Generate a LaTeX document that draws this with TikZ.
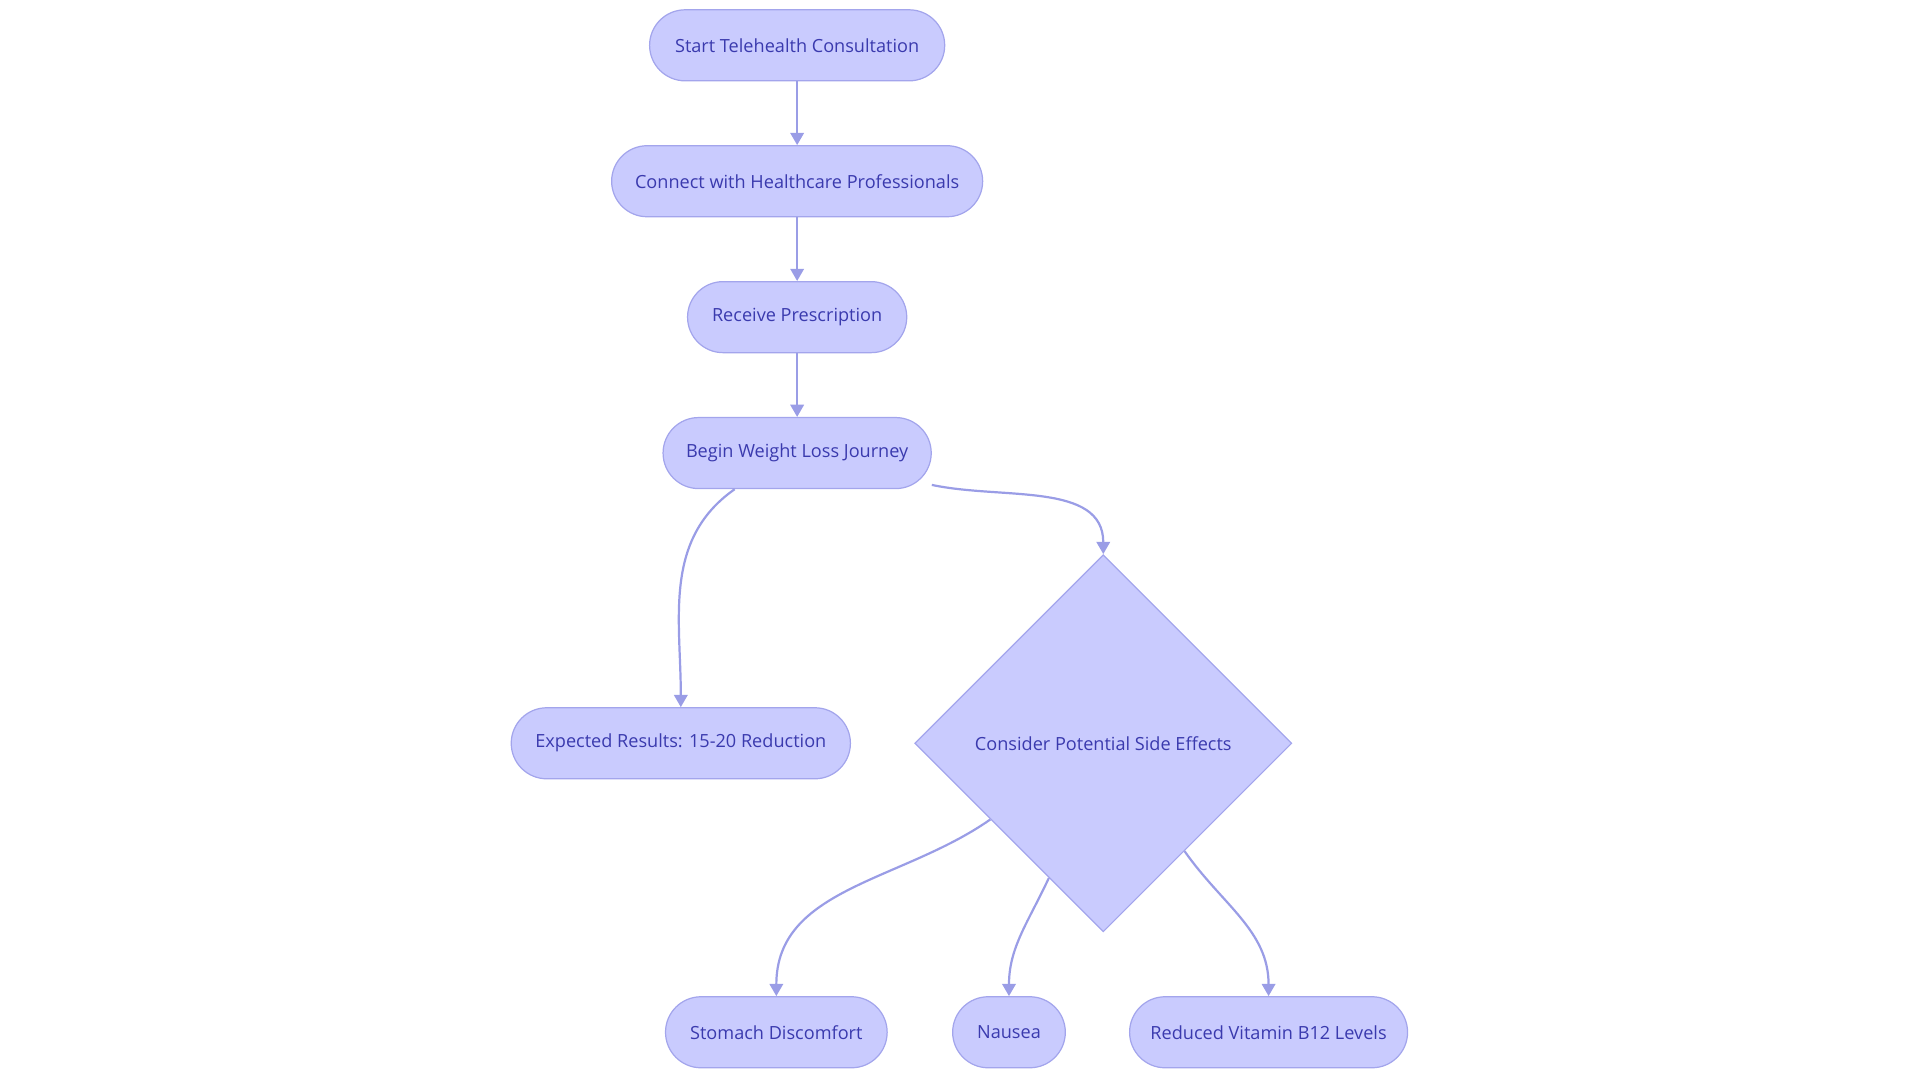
\documentclass[tikz,border=0pt]{standalone}
\usepackage{fontspec}
\setmainfont{Open Sans}
\usetikzlibrary{shapes.geometric,arrows.meta}
\definecolor{nfill}{HTML}{C9CBFE}
\definecolor{nline}{HTML}{A3A5EC}
\definecolor{ntext}{HTML}{3A3AAE}
\definecolor{eline}{HTML}{9A9DE6}
\begin{document}
\begin{tikzpicture}[x=1pt,y=1pt,
  box/.style={draw=nline,fill=nfill,text=ntext,rounded corners=14.5pt,minimum height=29pt,font=\fontsize{7.4}{9}\selectfont,line width=0.5pt,inner sep=0pt},
  dia/.style={draw=nline,fill=nfill,text=ntext,diamond,minimum width=154pt,minimum height=154pt,font=\fontsize{7.4}{9}\selectfont,line width=0.5pt,inner sep=0pt},
  arr/.style={draw=eline,line width=0.9pt,-{Triangle[length=5pt,width=5.5pt]}}]
\useasboundingbox (0,0) rectangle (784,-442);
\node[box,minimum width=120.5pt] (start) at (325.5,-18.5) {Start Telehealth Consultation};
\node[box,minimum width=151.5pt] (connect) at (325.5,-74) {Connect with Healthcare Professionals};
\node[box,minimum width=89.5pt] (receive) at (325.5,-129.5) {Receive Prescription};
\node[box,minimum width=109.5pt] (begin) at (325.5,-185) {Begin Weight Loss Journey};
\node[box,minimum width=138.5pt] (expected) at (278,-303.5) {Expected Results: 15-20 Reduction};
\node[dia] (side) at (450.5,-303.5) {Consider Potential Side Effects};
\node[box,minimum width=90.5pt] (stomach) at (317,-421.5) {Stomach Discomfort};
\node[box,minimum width=46pt] (nausea) at (412,-421.5) {Nausea};
\node[box,minimum width=113.5pt] (reduced) at (518,-421.5) {Reduced Vitamin B12 Levels};
\draw[arr] (start) -- (connect);
\draw[arr] (connect) -- (receive);
\draw[arr] (receive) -- (begin);
\draw[arr] ([xshift=-25.5pt]begin.south) to[out=-145,in=90] (expected.north);
\draw[arr] ([yshift=-13pt]begin.east) to[out=-12,in=90] (side.north);
\draw[arr] (side.214) to[out=-145,in=90] (stomach.north);
\draw[arr] (side.248) to[out=-115,in=90] (nausea.north);
\draw[arr] (side.-53) to[out=-55,in=90] (reduced.north);
\end{tikzpicture}
\end{document}
